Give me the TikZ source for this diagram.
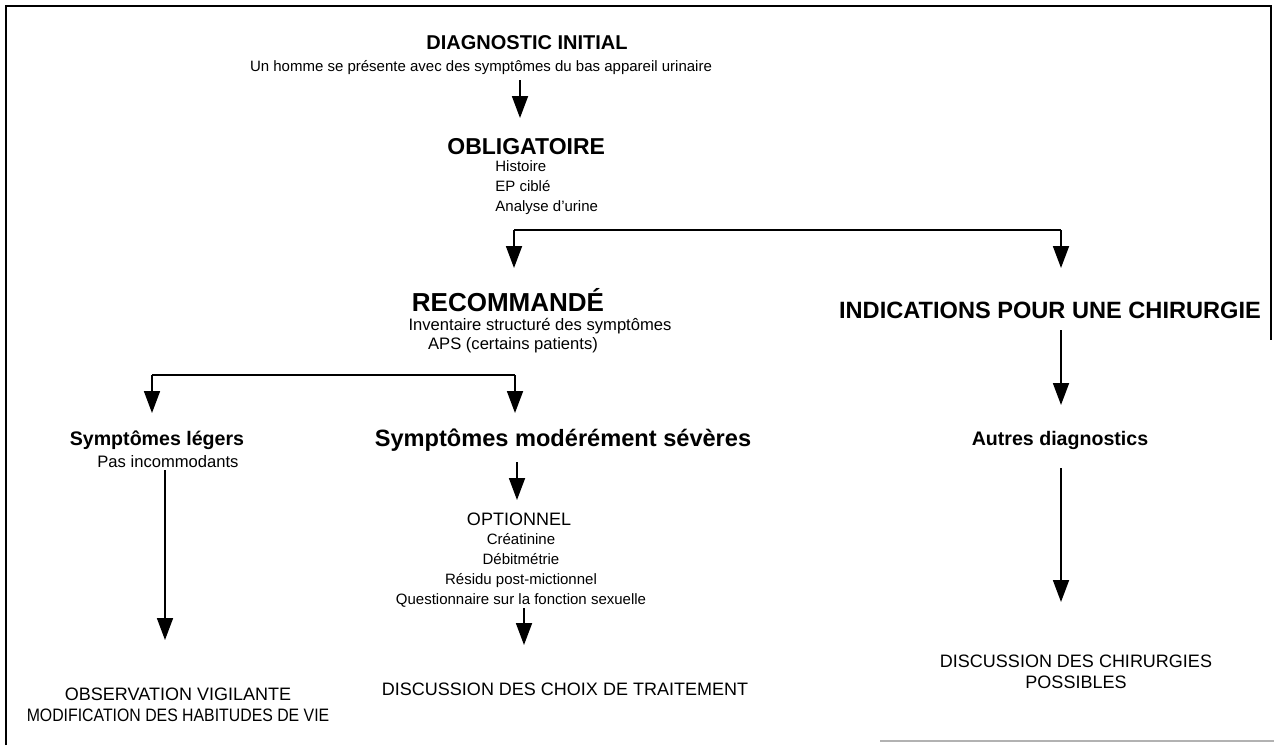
\documentclass[tikz,border=0pt]{standalone}
\usepackage{fontspec}
\setmainfont{Liberation Sans}
\usetikzlibrary{arrows.meta}
\begin{document}
\begin{tikzpicture}[x=0.5pt,y=-0.5pt,
  head/.style={font=\bfseries\fontsize{10}{12}\selectfont, inner sep=0pt},
  bighead/.style={font=\bfseries\fontsize{11.8}{14}\selectfont, inner sep=0pt},
  midhead/.style={font=\bfseries\fontsize{9.8}{12}\selectfont, inner sep=0pt},
  small/.style={font=\fontsize{7.5}{10}\selectfont, inner sep=0pt},
  smallb/.style={font=\fontsize{8.3}{10}\selectfont, inner sep=0pt},
  caps/.style={font=\fontsize{9}{10.5}\selectfont, inner sep=0pt, align=center},
  arr/.style={line width=0.9pt, -{Triangle[width=8pt,length=11pt]}},
  ln/.style={line width=0.7pt},
  frame/.style={line width=0.8pt}]
\useasboundingbox (0,0) rectangle (1274,745);
% frame
\draw[frame] (6,745) -- (6,6) -- (1271,6) -- (1271,340);
\draw[frame, gray!60] (880,741) -- (1274,741);
% nodes
\node[head] (diag) at (527,43) {DIAGNOSTIC INITIAL};
\node[small] (diagt) at (481,68) {Un homme se présente avec des symptômes du bas appareil urinaire};
\node[bighead, font=\bfseries\fontsize{11.5}{14}\selectfont, anchor=west] (oblig) at (447,147) {OBLIGATOIRE};
\node[small, anchor=west, align=left] (obligt) at (495,188) {Histoire\\EP ciblé\\Analyse d'urine};
\node[bighead, font=\bfseries\fontsize{13}{15}\selectfont] (recom) at (508,300) {RECOMMANDÉ};
\node[smallb] (recomt) at (540,326) {Inventaire structuré des symptômes};
\node[smallb] (aps) at (513,345) {APS (certains patients)};
\node[bighead] (indic) at (1050,310) {INDICATIONS POUR UNE CHIRURGIE};
\node[midhead] (leg) at (157,440) {Symptômes légers};
\node[smallb, anchor=west] (legt) at (97,462) {Pas incommodants};
\node[bighead] (mod) at (563,440) {Symptômes modérément sévères};
\node[midhead] (autres) at (1060,440) {Autres diagnostics};
\node[caps] (opt) at (519,519) {OPTIONNEL};
\node[small, align=center] (optt) at (521,570) {Créatinine\\Débitmétrie\\Résidu post-mictionnel\\Questionnaire sur la fonction sexuelle};
\node[caps] (obs) at (178,705) {OBSERVATION VIGILANTE\\\scalebox{0.88}[1]{MODIFICATION DES HABITUDES DE VIE}};
\node[caps] (trait) at (565,689) {DISCUSSION DES CHOIX DE TRAITEMENT};
\node[caps] (chir) at (1076,672) {DISCUSSION DES CHIRURGIES\\POSSIBLES};
% coordinates
\coordinate (a1s) at (520,80);
\coordinate (a1e) at (520,118);
\coordinate (b1l) at (514,230);
\coordinate (b1r) at (1061,230);
\coordinate (b1le) at (514,268);
\coordinate (b1re) at (1061,268);
\coordinate (c1s) at (1061,330);
\coordinate (c1e) at (1061,405);
\coordinate (b2l) at (152,375);
\coordinate (b2r) at (515,375);
\coordinate (b2le) at (152,413);
\coordinate (b2re) at (515,413);
\coordinate (d1s) at (165,470);
\coordinate (d1e) at (165,640);
\coordinate (d2s) at (517,462);
\coordinate (d2e) at (517,500);
\coordinate (d3s) at (524,608);
\coordinate (d3e) at (524,645);
\coordinate (d4s) at (1061,468);
\coordinate (d4e) at (1061,602);
% connectors
\draw[arr] (a1s) -- (a1e);
\draw[ln] (b1l) -- (b1r);
\draw[arr] (b1l) -- (b1le);
\draw[arr] (b1r) -- (b1re);
\draw[arr] (c1s) -- (c1e);
\draw[ln] (b2l) -- (b2r);
\draw[arr] (b2l) -- (b2le);
\draw[arr] (b2r) -- (b2re);
\draw[arr] (d1s) -- (d1e);
\draw[arr] (d2s) -- (d2e);
\draw[arr] (d3s) -- (d3e);
\draw[arr] (d4s) -- (d4e);
\end{tikzpicture}
\end{document}
